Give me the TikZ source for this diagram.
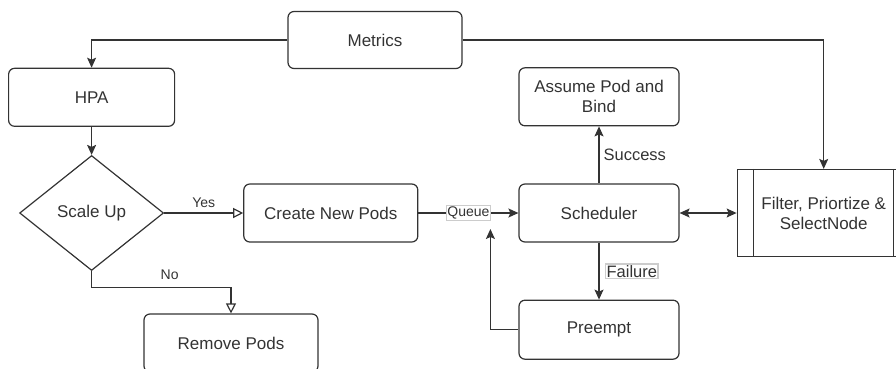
\documentclass[tikz,border=0pt]{standalone}
\usepackage{fontspec}
\setmainfont{Liberation Sans}
\usepackage{xcolor}
\usetikzlibrary{positioning,arrows.meta,shapes.geometric}
\definecolor{ink}{HTML}{333333}
\tikzset{
  stepbox/.style  = {rectangle, rounded corners=6pt, draw=ink, line width=1.2pt,
                     align=center, font=\fontsize{17}{20}\selectfont, text=ink,
                     minimum width=174pt, minimum height=58pt, inner sep=2pt},
  decision/.style = {diamond, draw=ink, line width=1.2pt, align=center,
                     font=\fontsize{17}{20}\selectfont, text=ink,
                     minimum width=144pt, minimum height=115pt, inner sep=0pt},
  procbox/.style  = {rectangle, draw=ink, line width=1.2pt, align=center,
                     font=\fontsize{17}{20}\selectfont, text=ink,
                     minimum width=173pt, minimum height=87pt, inner sep=2pt},
  flow/.style     = {-{Stealth[length=10pt,width=9pt,inset=2pt]}, line width=1.2pt, draw=ink},
  flowboth/.style = {{Stealth[length=10pt,width=9pt,inset=2pt]}-{Stealth[length=10pt,width=9pt,inset=2pt]},
                     line width=1.2pt, draw=ink},
  branch/.style   = {-{Triangle[open,length=10pt,width=10pt,fill=white]}, line width=1.2pt, draw=ink},
  lbl/.style      = {font=\fontsize{14}{16}\selectfont, text=ink, inner sep=2pt},
  biglbl/.style   = {font=\fontsize{16.5}{19}\selectfont, text=ink, inner sep=2pt},
  tag/.style      = {draw=black!20, fill=white, inner sep=1pt},
}
\begin{document}
\begin{tikzpicture}[x=1pt, y=-1pt]
  \useasboundingbox (0,0) rectangle (896,369);

  \node[stepbox] (sched) at (599,213) [minimum width=160pt] {Scheduler};
  \node[stepbox, minimum width=160pt, above=57pt of sched] (assume) {Assume Pod and\\Bind};
  \node[stepbox, minimum width=160pt, minimum height=59pt, below=57pt of sched] (preempt) {Preempt};
  \node[procbox, right=57pt of sched] (filter) {Filter, Priortize \&\\SelectNode};
  \node[stepbox, left=100pt of sched] (create) {Create New Pods};
  \node[decision, left=79pt of create] (scale) {Scale Up};
  \node[stepbox, minimum width=166pt, above=28pt of scale] (hpa) {HPA};
  \node[stepbox, minimum height=57pt] (metrics) at (375,40) {Metrics};
  \node[stepbox] (remove) at (231,343) {Remove Pods};

  % process side bars
  \draw[ink, line width=1.2pt] ([xshift=17pt]filter.north west) -- ([xshift=17pt]filter.south west);
  \draw[ink, line width=1.2pt] ([xshift=-17pt]filter.north east) -- ([xshift=-17pt]filter.south east);

  \coordinate (qin) at ([xshift=-28pt,yshift=-16pt]sched.west);

  \draw[flow] (metrics.west) -| (hpa.north);
  \draw[flow] (metrics.east) -| (filter.north);
  \draw[flow] (hpa) -- (scale);
  \draw[branch] (scale.east) -- node[lbl, above=3pt]{Yes} (create.west);
  \draw[branch] (scale.south) -- ++(0,16) -| node[lbl, above=5pt, pos=0.28]{No} (remove.north);
  \draw[flow] (create.east) -- node[lbl, tag]{Queue} (sched.west);
  \draw[flow] (sched.north) -- node[biglbl, right=2pt]{Success} (assume.south);
  \draw[flow] (sched.south) -- node[biglbl, tag, right=6pt]{Failure} (preempt.north);
  \draw[flowboth] (sched.east) -- (filter.west);

  % retry after preemption
  \draw[flow] (preempt.west) -| (qin);
\end{tikzpicture}
\end{document}
